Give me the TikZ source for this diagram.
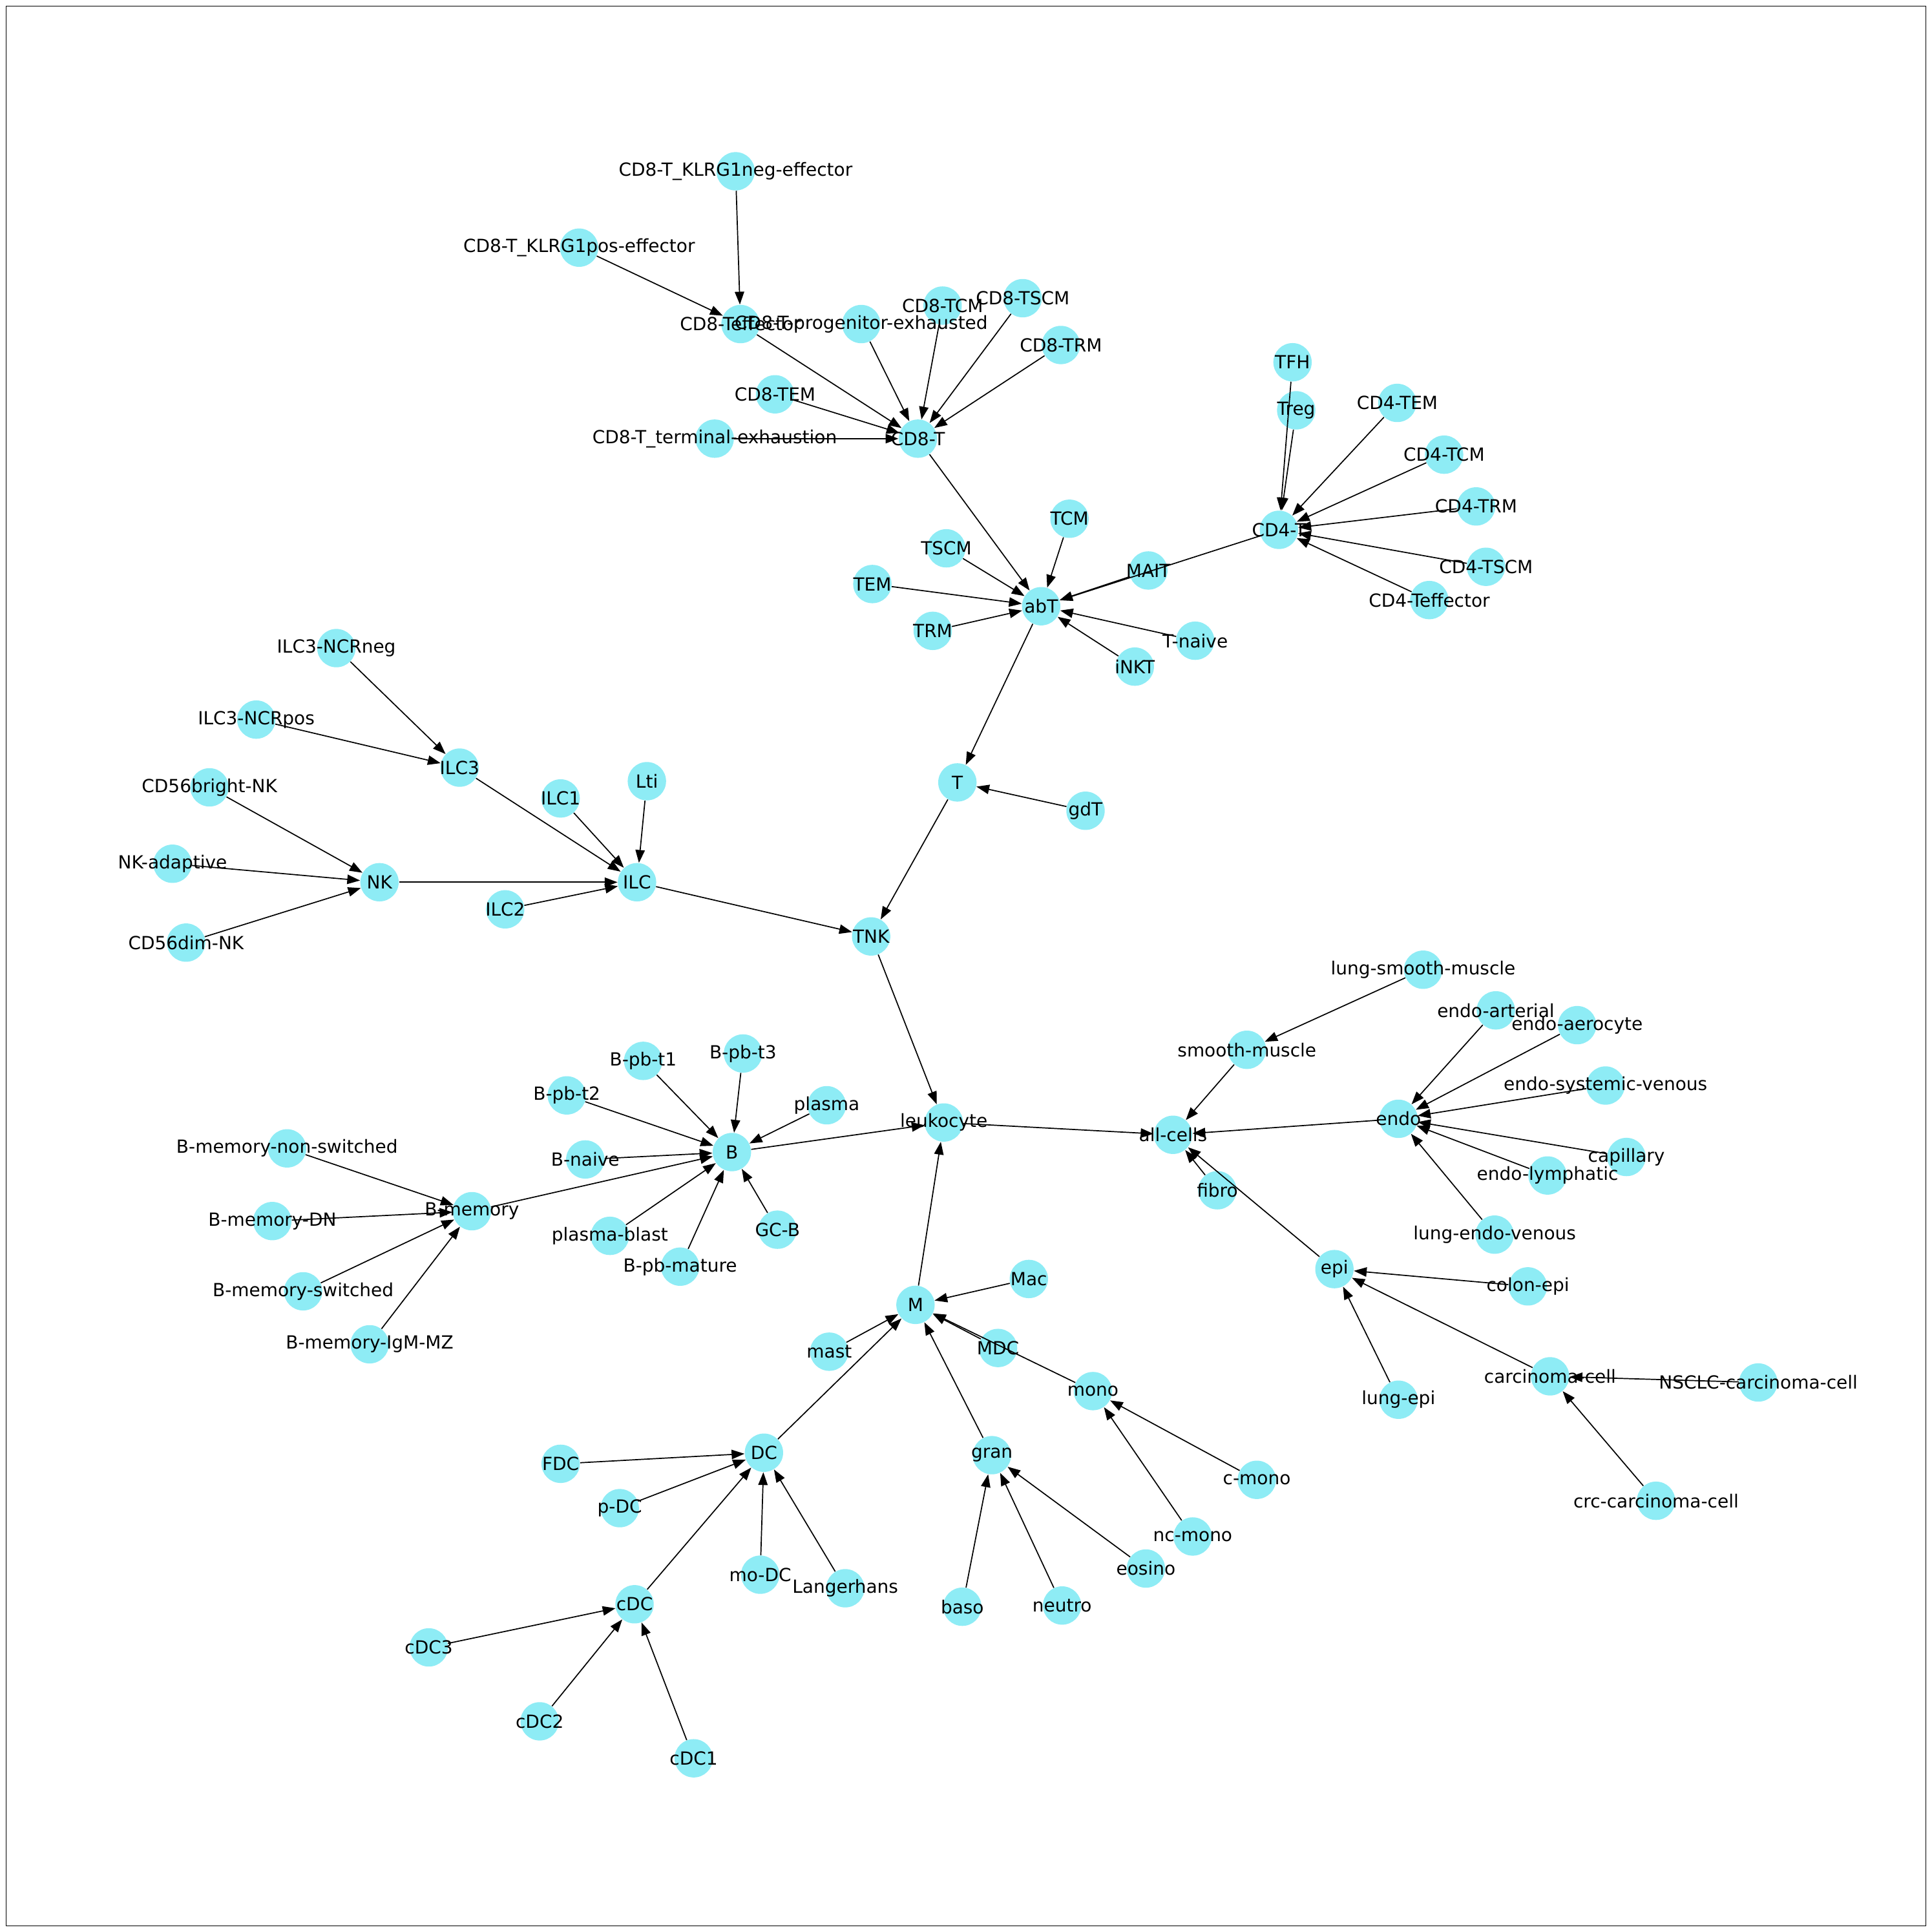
\documentclass[tikz,border=0pt]{standalone}
\usepackage{fontspec}
\setmainfont{DejaVu Sans}
\usetikzlibrary{arrows.meta}
\definecolor{nodecyan}{HTML}{8EECF5}
\begin{document}
\begin{tikzpicture}[x=0.254mm,y=-0.254mm,
  dot/.style={circle,fill=nodecyan,draw=none,minimum size=22.5,inner sep=0pt},
  lbl/.style={font=\fontsize{10.6pt}{12pt}\selectfont,inner sep=0pt},
  edge/.style={line width=0.65pt,-{Triangle[length=7.5pt,width=5.5pt]}}]
\useasboundingbox (0,0) rectangle (1568,1568);
\draw[line width=0.6pt] (5,5) rectangle (1563,1563);
\def\nodelist{
allcells/952/921/all-cells,
leukocyte/766/911/leukocyte,
endo/1135/908/endo,
smoothmuscle/1012/852/smooth-muscle,
lungsmoothmuscle/1155/787/lung-smooth-muscle,
endoarterial/1214/820/endo-arterial,
endoaerocyte/1280/832/endo-aerocyte,
endosystemicvenous/1303/881/endo-systemic-venous,
capillary/1320/939/capillary,
endolymphatic/1256/954/endo-lymphatic,
lungendovenous/1213/1002/lung-endo-venous,
fibro/988/966/fibro,
epi/1083/1030/epi,
colonepi/1240/1044/colon-epi,
lungepi/1135/1136/lung-epi,
carcinoma/1258/1117/carcinoma-cell,
nsclc/1427/1122/NSCLC-carcinoma-cell,
crc/1344/1218/crc-carcinoma-cell,
M/743/1059/M,
Mac/835/1038/Mac,
MDC/810/1094/MDC,
mast/673/1097/mast,
mono/887/1129/mono,
cmono/1020/1201/c-mono,
ncmono/968/1247/nc-mono,
gran/805/1181/gran,
baso/781/1304/baso,
neutro/862/1303/neutro,
eosino/930/1273/eosino,
DC/620/1179/DC,
FDC/455/1188/FDC,
pDC/503/1224/p-DC,
moDC/617/1278/mo-DC,
Langerhans/686/1289/Langerhans,
cDC/515/1302/cDC,
cDCt/348/1337/cDC3,
cDCb/438/1397/cDC2,
cDCa/563/1427/cDC1,
B/594/935/B,
Bpbta/522/861/B-pb-t1,
Bpbtc/603/855/B-pb-t3,
Bpbtb/460/889/B-pb-t2,
plasma/671/897/plasma,
Bnaive/475/941/B-naive,
plasmablast/495/1003/plasma-blast,
Bpbmature/552/1028/B-pb-mature,
GCB/631/998/GC-B,
Bmemory/383/983/B-memory,
Bmns/233/932/B-memory-non-switched,
BmDN/221/991/B-memory-DN,
Bmsw/246/1048/B-memory-switched,
BmIgM/300/1091/B-memory-IgM-MZ,
TNK/707/760/TNK,
T/777/635/T,
gdT/881/658/gdT,
ILC/517/716/ILC,
ILCa/455/648/ILC1,
Lti/525/634/Lti,
ILCb/410/738/ILC2,
ILCc/373/623/ILC3,
ILCneg/273/526/ILC3-NCRneg,
ILCpos/208/584/ILC3-NCRpos,
NK/308/716/NK,
NKbright/170/639/CD56bright-NK,
NKadaptive/140/701/NK-adaptive,
NKdim/151/765/CD56dim-NK,
abT/845/492/abT,
TCM/868/421/TCM,
TSCM/768/445/TSCM,
TEM/708/474/TEM,
TRM/757/512/TRM,
iNKT/921/541/iNKT,
Tnaive/970/520/T-naive,
MAIT/932/463/MAIT,
CDfourT/1038/430/CD4-T,
TFH/1049/294/TFH,
Treg/1052/333/Treg,
CDfourTEM/1134/327/CD4-TEM,
CDfourTCM/1172/369/CD4-TCM,
CDfourTRM/1198/411/CD4-TRM,
CDfourTSCM/1206/460/CD4-TSCM,
CDfourTeff/1160/487/CD4-Teffector,
CDeightT/745/356/CD8-T,
CDeightTEM/629/320/CD8-TEM,
CDeightterm/580/356/CD8-T\_terminal-exhaustion,
CDeightTeff/601/263/CD8-Teffector,
KLneg/597/139/CD8-T\_KLRG1neg-effector,
KLpos/470/201/CD8-T\_KLRG1pos-effector,
CDeightprog/699/263/CD8-T-progenitor-exhausted,
CDeightTCM/765/248/CD8-TCM,
CDeightTSCM/830/242/CD8-TSCM,
CDeightTRM/861/280/CD8-TRM}
\foreach \n/\x/\y/\t in \nodelist { \node[dot] (\n) at (\x,\y) {}; }
\foreach \s/\d in {
CDeightTEM/CDeightT, CDeightterm/CDeightT, CDeightTeff/CDeightT, CDeightprog/CDeightT,
CDeightTCM/CDeightT, CDeightTSCM/CDeightT, CDeightTRM/CDeightT,
KLneg/CDeightTeff, KLpos/CDeightTeff, CDeightT/abT,
TCM/abT, TSCM/abT, TEM/abT, TRM/abT, iNKT/abT, Tnaive/abT, MAIT/abT, CDfourT/abT,
TFH/CDfourT, Treg/CDfourT, CDfourTEM/CDfourT, CDfourTCM/CDfourT, CDfourTRM/CDfourT,
CDfourTSCM/CDfourT, CDfourTeff/CDfourT,
abT/T, gdT/T, T/TNK, ILC/TNK, TNK/leukocyte,
ILCa/ILC, Lti/ILC, ILCb/ILC, ILCc/ILC, NK/ILC, ILCneg/ILCc, ILCpos/ILCc,
NKbright/NK, NKadaptive/NK, NKdim/NK,
B/leukocyte, Bpbta/B, Bpbtc/B, Bpbtb/B, plasma/B, Bnaive/B, plasmablast/B, Bpbmature/B, GCB/B, Bmemory/B,
Bmns/Bmemory, BmDN/Bmemory, Bmsw/Bmemory, BmIgM/Bmemory,
M/leukocyte, Mac/M, MDC/M, mast/M, mono/M, gran/M, DC/M,
cmono/mono, ncmono/mono, baso/gran, neutro/gran, eosino/gran,
FDC/DC, pDC/DC, moDC/DC, Langerhans/DC, cDC/DC, cDCt/cDC, cDCb/cDC, cDCa/cDC,
leukocyte/allcells, smoothmuscle/allcells, endo/allcells, fibro/allcells, epi/allcells,
lungsmoothmuscle/smoothmuscle,
endoarterial/endo, endoaerocyte/endo, endosystemicvenous/endo, capillary/endo, endolymphatic/endo, lungendovenous/endo,
colonepi/epi, lungepi/epi, carcinoma/epi, nsclc/carcinoma, crc/carcinoma}
{ \draw[edge] (\s) -- (\d); }
\foreach \n/\x/\y/\t in \nodelist { \node[lbl] (l\n) at (\x,\y) {\t}; }
\end{tikzpicture}
\end{document}
